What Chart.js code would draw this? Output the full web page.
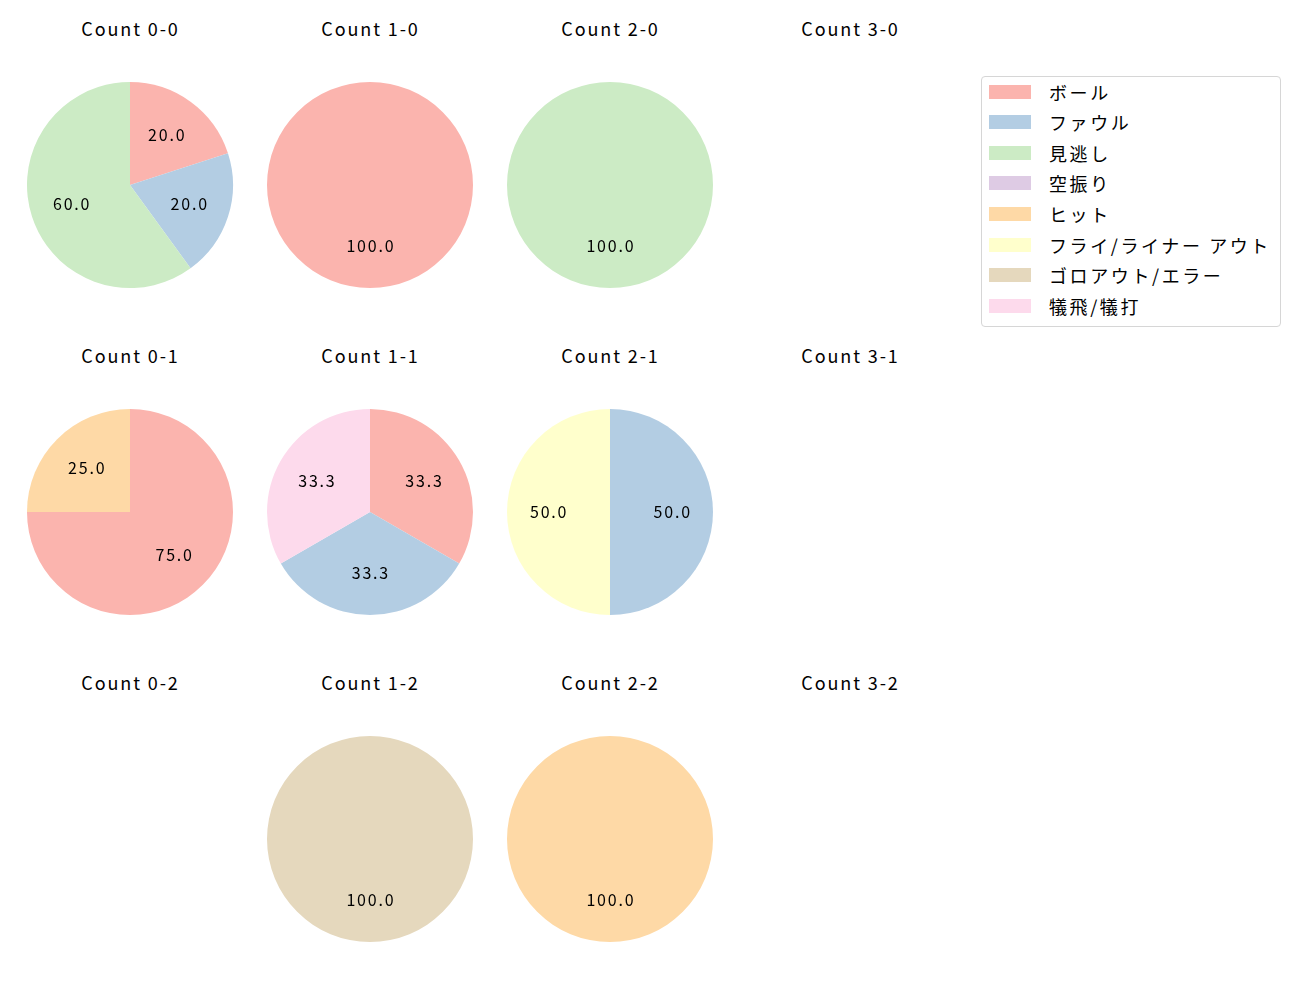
<!DOCTYPE html>
<html>
<head>
<meta charset="utf-8">
<script src="https://cdn.jsdelivr.net/npm/chart.js@4/dist/chart.umd.min.js"></script>
<style>
  body { margin: 0; background: #fff; font-family: "Noto Sans CJK JP", "DejaVu Sans", sans-serif; }
  #fig { position: relative; width: 1300px; height: 1000px; }
  .title { position: absolute; width: 240px; text-align: center; font-size: 18px; letter-spacing: 1.9px; color: #000; line-height: 20px; }
  canvas.pie { position: absolute; }
  #legend { position: absolute; left: 981px; top: 76px; width: 298px; height: 249px;
            border: 1px solid #d6d6d6; border-radius: 4px; background: #fff; }
  .item { position: absolute; left: 0; height: 20px; }
  .swatch { position: absolute; left: 7px; width: 42px; height: 14px; }
  .label { position: absolute; left: 67px; font-size: 18px; letter-spacing: 2.6px; line-height: 20px; white-space: nowrap; }
</style>
</head>
<body>
<div id="fig"></div>
<script>
// result categories and their colours (Pastel1)
var categories = ['ボール', 'ファウル', '見逃し', '空振り', 'ヒット', 'フライ/ライナー アウト', 'ゴロアウト/エラー', '犠飛/犠打'];
var colors = ['#fbb4ae', '#b3cde3', '#ccebc5', '#decbe4', '#fed9a6', '#ffffcc', '#e5d8bd', '#fddaec'];

// ball-strike counts, in grid order (row = strikes, col = balls)
var countLabels = ['0-0', '1-0', '2-0', '3-0', '0-1', '1-1', '2-1', '3-1', '0-2', '1-2', '2-2', '3-2'];

// share (%) of each category for every count
var ball      = [20, 100, 0, 0, 75, 33.3, 0,  0, 0, 0,   0,   0];
var foul      = [20, 0,   0, 0, 0,  33.3, 50, 0, 0, 0,   0,   0];
var called    = [60, 0, 100, 0, 0,  0,    0,  0, 0, 0,   0,   0];
var swinging  = [0,  0,   0, 0, 0,  0,    0,  0, 0, 0,   0,   0];
var hit       = [0,  0,   0, 0, 25, 0,    0,  0, 0, 0,   100, 0];
var flyOut    = [0,  0,   0, 0, 0,  0,    50, 0, 0, 0,   0,   0];
var groundOut = [0,  0,   0, 0, 0,  0,    0,  0, 0, 100, 0,   0];
var sacrifice = [0,  0,   0, 0, 0,  33.3, 0,  0, 0, 0,   0,   0];

var series = [ball, foul, called, swinging, hit, flyOut, groundOut, sacrifice];

var fig = document.getElementById('fig');

// draws the percentage text at 0.6 of the radius, like autopct
var pctLabels = {
    id: 'pctLabels',
    afterDatasetsDraw: function(chart) {
        var ctx = chart.ctx;
        var meta = chart.getDatasetMeta(0);
        var values = chart.data.datasets[0].data;
        var total = values.reduce(function(a, b) { return a + b; }, 0);
        ctx.save();
        ctx.fillStyle = '#000';
        ctx.font = '16px "Noto Sans CJK JP", "DejaVu Sans", sans-serif';
        ctx.letterSpacing = '1.8px';
        ctx.textAlign = 'center';
        ctx.textBaseline = 'middle';
        meta.data.forEach(function(arc, i) {
            if (!values[i]) return;
            var mid = (arc.startAngle + arc.endAngle) / 2;
            var r = arc.outerRadius * 0.6;
            ctx.fillText((values[i] / total * 100).toFixed(1), arc.x + Math.cos(mid) * r + 0.9, arc.y + Math.sin(mid) * r - 0.5);
        });
        ctx.restore();
    }
};

for (var k = 0; k < countLabels.length; k++) {
    var col = k % 4;
    var row = Math.floor(k / 4);
    var cx = 129.5 + 240 * col;
    var cy = 185 + 327 * row;

    var t = document.createElement('div');
    t.className = 'title';
    t.style.left = (cx - 119) + 'px';
    t.style.top = (cy - 167) + 'px';
    t.textContent = 'Count ' + countLabels[k];
    fig.appendChild(t);

    var vals = [], cols = [], labs = [];
    for (var s = 0; s < series.length; s++) {
        if (series[s][k] > 0) {
            vals.push(series[s][k]);
            cols.push(colors[s]);
            labs.push(categories[s]);
        }
    }
    if (vals.length === 0) continue;

    var cv = document.createElement('canvas');
    cv.className = 'pie';
    cv.width = 230;
    cv.height = 230;
    cv.style.left = (cx - 115) + 'px';
    cv.style.top = (cy - 115) + 'px';
    fig.appendChild(cv);

    new Chart(cv.getContext('2d'), {
        type: 'pie',
        data: {
            labels: labs,
            datasets: [{ data: vals, backgroundColor: cols, borderWidth: 0, radius: 103 }]
        },
        options: {
            responsive: false,
            animation: false,
            layout: { padding: 0 },
            plugins: { legend: { display: false }, tooltip: { enabled: false } }
        },
        plugins: [pctLabels]
    });
}

// figure legend
var legend = document.createElement('div');
legend.id = 'legend';
fig.appendChild(legend);
for (var j = 0; j < categories.length; j++) {
    var it = document.createElement('div');
    it.className = 'item';
    it.style.top = (14.5 + j * 30.65 - 10) + 'px';
    var sw = document.createElement('div');
    sw.className = 'swatch';
    sw.style.top = '3px';
    sw.style.background = colors[j];
    var lb = document.createElement('div');
    lb.className = 'label';
    lb.textContent = categories[j];
    it.appendChild(sw);
    it.appendChild(lb);
    legend.appendChild(it);
}
</script>
</body>
</html>
